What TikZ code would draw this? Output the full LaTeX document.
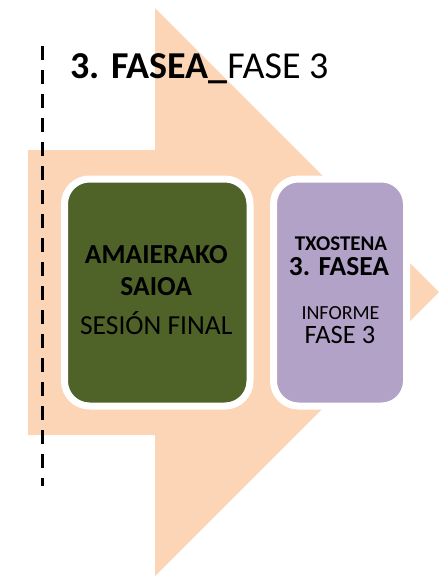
\documentclass[tikz,border=0pt]{standalone}
\usepackage{fontspec}
\setmainfont{Carlito}
\usepackage{tikz}
\usetikzlibrary{calc,backgrounds}
\usepackage{xcolor}
\definecolor{arrowpeach}{HTML}{FBD5B5}
\definecolor{sessiongreen}{HTML}{4F6228}
\definecolor{reportlilac}{HTML}{B3A2C7}
\tikzstyle{phase}=[
  x=1pt,y=-1pt,font=\fontsize{27.5}{32}\selectfont
]
\tikzstyle{stepnode}=[
  draw=white,line width=7pt,rounded corners=25pt,inner sep=0pt,minimum height=227pt
]
\tikzstyle{boxtext}=[
  anchor=base,inner sep=0pt
]
\tikzstyle{cutline}=[
  line width=3pt,dash pattern=on 14pt off 10pt
]

\begin{document}
\begin{tikzpicture}[phase]
      \useasboundingbox (0,0) rectangle (446,576);
      \node (final) at (157.25,292.5) [stepnode,fill=sessiongreen,minimum width=185.5pt] {};
      \node (report) at (340,292.5) [stepnode,fill=reportlilac,minimum width=133pt] {};
      % title
      \node (title) at (70,78) [anchor=base west,inner sep=0pt,font=\fontsize{38}{44}\selectfont]
        {\textbf{3. FASEA\_}FASE 3};
      % green box
      \node (f1) at ($(final) + (-1,-29.5)$) [boxtext] {\bfseries AMAIERAKO};
      \node (f2) at ($(final) + (-1,2.5)$) [boxtext] {\bfseries SAIOA};
      \node (f3) at ($(final) + (-1,41.5)$) [boxtext] {SESIÓN FINAL};
      % lilac box
      \node (r1) at ($(report) + (1,-42.5)$) [boxtext,font=\fontsize{21}{24}\selectfont] {\bfseries TXOSTENA};
      \node (r2) at ($(report) + (-1,-17.5)$) [boxtext] {\bfseries 3. FASEA};
      \node (r3) at ($(report) + (0.5,26.5)$) [boxtext,font=\fontsize{20}{24}\selectfont] {INFORME};
      \node (r4) at ($(report) + (0,50.5)$) [boxtext,font=\fontsize{26.5}{31}\selectfont] {FASE 3};
      \coordinate (cuttop) at (42,46);
      \coordinate (cutbot) at (42,486);
    \begin{scope}[on background layer]
      \fill [arrowpeach] (28,150) -- (155,150) -- (155,8) -- (439,292)
        -- (155,576) -- (155,435) -- (28,435) -- cycle;
      \draw [cutline] (cuttop) -- (cutbot);
    \end{scope}
    \end{tikzpicture}
\end{document}
